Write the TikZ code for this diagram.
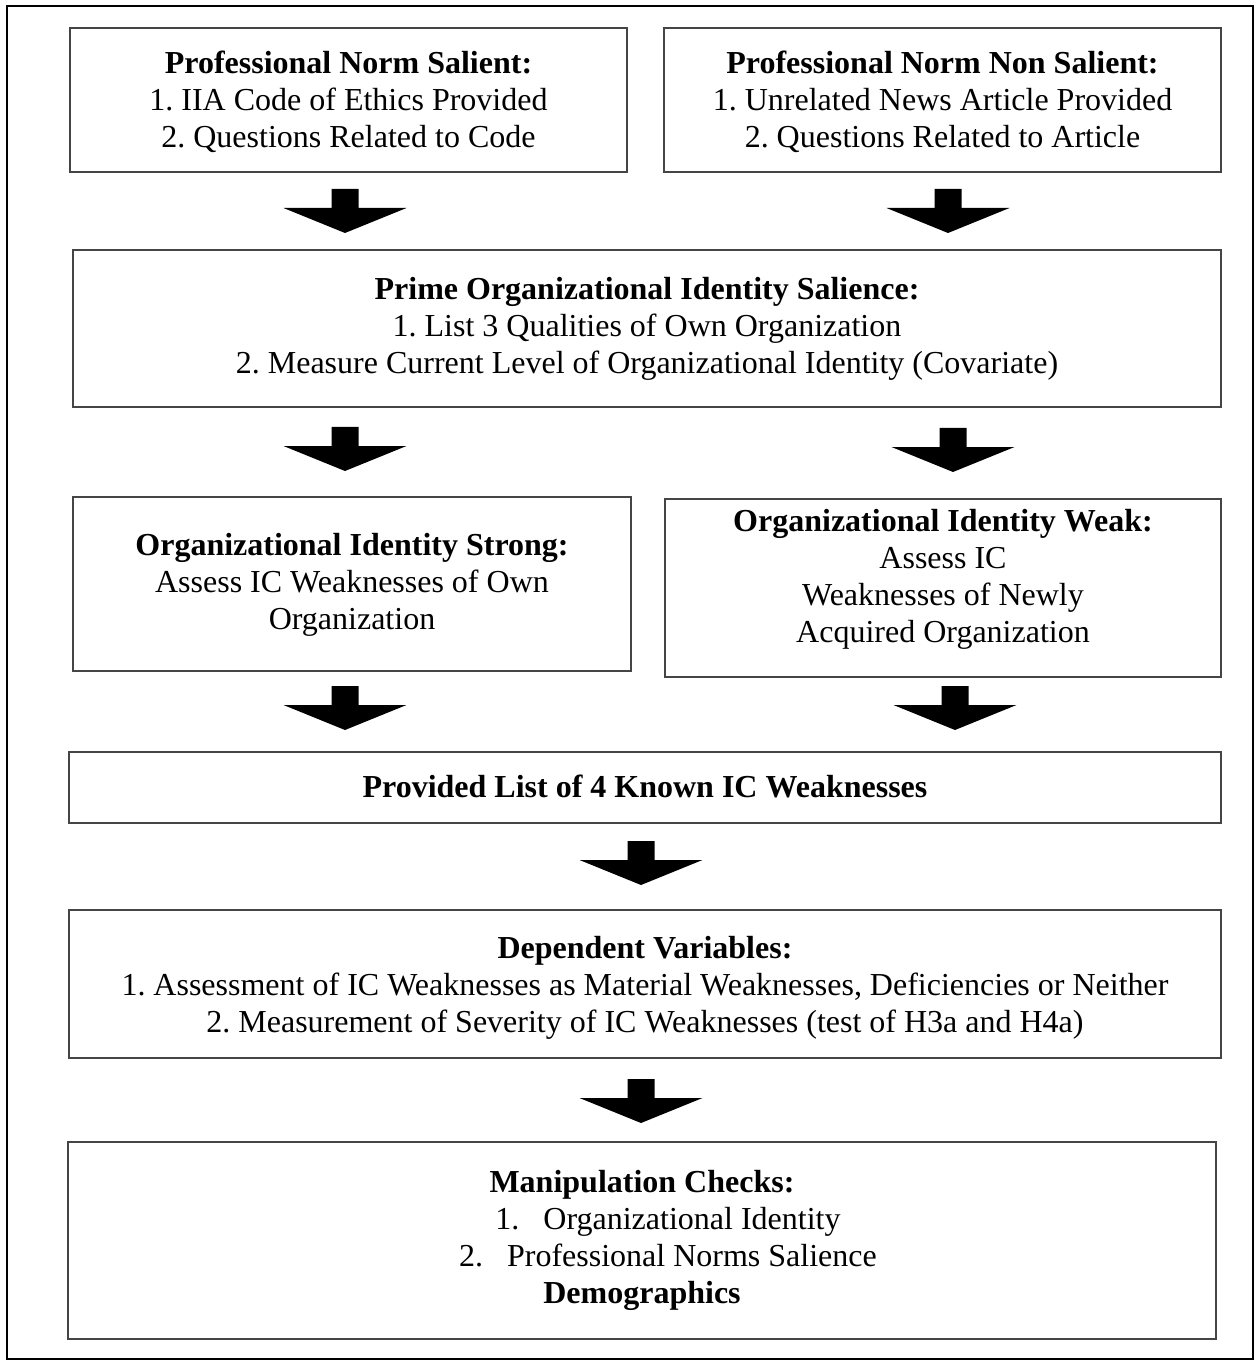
\documentclass[tikz,border=0pt]{standalone}
\usepackage{fontspec}
\setmainfont{Liberation Serif}
\definecolor{boxline}{HTML}{454545}
\begin{document}
\frenchspacing
\begin{tikzpicture}[x=0.5pt,y=-0.5pt,
  frame/.style={draw=boxline,line width=1pt,inner sep=0pt},
  txt/.style={align=center,inner sep=0pt,font=\fontsize{16}{18.5}\selectfont},
  downarrow/.pic={\fill[black] (-13.5,0) -- (13.5,0) -- (13.5,19) -- (61.5,19) -- (0,44) -- (-61.5,19) -- (-13.5,19) -- cycle;}]
\useasboundingbox (0,0) rectangle (1256,1363);
\draw[line width=1.4pt,black] (7,6) rectangle (1253,1359);

% frames
\node[frame,minimum width=278.5pt,minimum height=72pt] (b1) at (348.5,100) {};
\node[frame,minimum width=278.5pt,minimum height=72pt] (b2) at (942.5,100) {};
\node[frame,minimum width=574pt,minimum height=78.5pt] (b3) at (647,328.5) {};
\node[frame,minimum width=279pt,minimum height=87pt] (b4) at (352,584) {};
\node[frame,minimum width=278pt,minimum height=89pt] (b5) at (943,588) {};
\node[frame,minimum width=576pt,minimum height=35.5pt] (b6) at (645,787.5) {};
\node[frame,minimum width=576pt,minimum height=74pt] (b7) at (645,984) {};
\node[frame,minimum width=574pt,minimum height=98.5pt] (b8) at (642,1240.5) {};

% texts
\node[txt] (t1) at ([yshift=-1pt]b1.center)
  {\textbf{Professional Norm Salient:}\\1. IIA Code of Ethics Provided\\2. Questions Related to Code};
\node[txt] (t2) at ([yshift=-1pt]b2.center)
  {\textbf{Professional Norm Non Salient:}\\1. Unrelated News Article Provided\\2. Questions Related to Article};
\node[txt] (t3) at (b3.center)
  {\textbf{Prime Organizational Identity Salience:}\\1. List 3 Qualities of Own Organization\\2. Measure Current Level of Organizational Identity (Covariate)};
\node[txt] (t4) at ([yshift=-0.5pt]b4.center)
  {\textbf{Organizational Identity Strong:}\\Assess IC Weaknesses of Own\\Organization};
\node[txt] (t5) at ([yshift=4.5pt]b5.center)
  {\textbf{Organizational Identity Weak:}\\Assess IC\\Weaknesses of Newly\\Acquired Organization};
\node[txt] (t6) at ([yshift=0.5pt]b6.center)
  {\textbf{Provided List of 4 Known IC Weaknesses}};
\node[txt] (t7) at ([yshift=-2pt]b7.center)
  {\textbf{Dependent Variables:}\\1. Assessment of IC Weaknesses as Material Weaknesses, Deficiencies or Neither\\2. Measurement of Severity of IC Weaknesses (test of H3a and H4a)};
\node[txt] (t8) at (b8.center)
  {\textbf{Manipulation Checks:}\\\hspace*{26pt}1.\hspace{12pt}Organizational Identity\\\hspace*{26pt}2.\hspace{12pt}Professional Norms Salience\\\textbf{Demographics}};

% block arrows
\pic at (345,189) {downarrow};
\pic at (948,189) {downarrow};
\pic at (345,427) {downarrow};
\pic at (953,428) {downarrow};
\pic at (345,686) {downarrow};
\pic at (955,686) {downarrow};
\pic at (641,841) {downarrow};
\pic at (641,1079) {downarrow};
\end{tikzpicture}
\end{document}
